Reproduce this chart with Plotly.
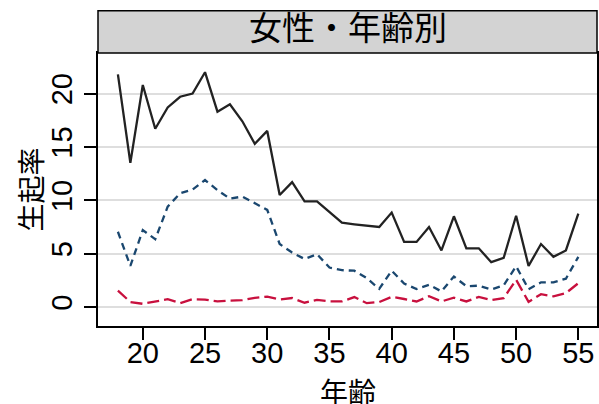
import plotly.graph_objects as go

# 年齢別の生起率(女性)
ages = list(range(18, 56))

rate_total = [21.8, 13.5, 20.8, 16.7, 18.7, 19.7, 20.0, 22.0, 18.3, 19.0,
              17.4, 15.3, 16.5, 10.5, 11.7, 9.9, 9.9, 8.9, 7.9, 7.75,
              7.6, 7.5, 8.85, 6.1, 6.1, 7.5, 5.3, 8.5, 5.5, 5.5,
              4.2, 4.6, 8.55, 3.85, 5.9, 4.7, 5.3, 8.75]

rate_mid = [7.05, 3.85, 7.2, 6.35, 9.4, 10.65, 11.0, 11.9, 10.95, 10.15,
            10.35, 9.7, 9.1, 5.9, 5.1, 4.5, 4.95, 3.7, 3.45, 3.4,
            2.7, 1.7, 3.4, 2.2, 1.68, 2.08, 1.46, 2.86, 1.95, 2.0,
            1.64, 2.03, 3.82, 1.67, 2.31, 2.31, 2.65, 4.7]

rate_low = [1.53, 0.47, 0.3, 0.5, 0.73, 0.36, 0.73, 0.7, 0.52, 0.6,
            0.64, 0.86, 0.98, 0.7, 0.84, 0.4, 0.67, 0.53, 0.52, 0.93,
            0.36, 0.47, 0.95, 0.75, 0.52, 1.01, 0.52, 0.87, 0.52, 0.95,
            0.64, 0.83, 2.55, 0.48, 1.2, 1.0, 1.3, 2.23]

x_ticks = [20, 25, 30, 35, 40, 45, 50, 55]
y_ticks = [0, 5, 10, 15, 20]

strip_label = "女性・年齢別"
x_title = "年齢"
y_title = "生起率"

FONT = "Liberation Sans, Arial, Noto Sans CJK JP, sans-serif"
CJK = "Noto Sans CJK JP, Liberation Sans, sans-serif"

fig = go.Figure()
fig.add_trace(go.Scatter(x=ages, y=rate_total, mode="lines",
                         line=dict(color="#222222", width=2.3)))
fig.add_trace(go.Scatter(x=ages, y=rate_mid, mode="lines",
                         line=dict(color="#1a476f", width=2.3, dash="7px,5px")))
fig.add_trace(go.Scatter(x=ages, y=rate_low, mode="lines",
                         line=dict(color="#c8103e", width=2.3, dash="12px,5px")))

W, H = 599, 404
m_l, m_r, m_t, m_b = 98, 2, 53, 78
plot_w = W - m_l - m_r
plot_h = H - m_t - m_b

def paper_y(py):
    return (H - m_b - py) / plot_h

def paper_x(px):
    return (px - m_l) / plot_w

fig.update_layout(
    width=W, height=H,
    margin=dict(l=m_l, r=m_r, t=m_t, b=m_b),
    paper_bgcolor="white", plot_bgcolor="white",
    showlegend=False,
    font=dict(family=FONT, color="black", size=29),
    xaxis=dict(
        automargin=False,
        range=[16.4, 56.5], tickvals=x_ticks, ticktext=[str(v) for v in x_ticks],
        showgrid=False, zeroline=False,
        showline=True, linecolor="black", linewidth=2, mirror=True,
        ticks="",
        minor=dict(tickvals=x_ticks, ticks="outside", ticklen=12,
                   tickwidth=1.5, tickcolor="black", showgrid=False),
        tickfont=dict(size=29, family=FONT),
    ),
    yaxis=dict(
        automargin=False,
        range=[-1.78, 23.8], tickvals=y_ticks, ticktext=[str(v) for v in y_ticks],
        tickangle=-90,
        showgrid=True, gridcolor="#dedede", gridwidth=2, zeroline=False,
        showline=True, linecolor="black", linewidth=2, mirror=True,
        ticks="outside", ticklen=12, tickwidth=1.5, tickcolor="black",
        tickfont=dict(size=29, family=FONT),
    ),
    shapes=[dict(type="rect", xref="paper", yref="paper",
                 x0=0, x1=1, y0=1.0, y1=paper_y(10.7),
                 fillcolor="#d3d3d3", line=dict(color="black", width=1.5),
                 layer="above")],
    annotations=[
        dict(text=strip_label, xref="paper", yref="paper",
             x=0.5, y=paper_y(26.5), xanchor="center", yanchor="middle",
             showarrow=False, font=dict(size=33, family=CJK, color="black")),
        # axis titles
        dict(text=x_title, xref="paper", yref="paper",
             x=0.5, y=paper_y(391), xanchor="center", yanchor="middle",
             showarrow=False, font=dict(size=28, family=CJK, color="black")),
        dict(text=y_title, xref="paper", yref="paper", textangle=-90,
             x=paper_x(29), y=0.5, xanchor="center", yanchor="middle",
             showarrow=False, font=dict(size=28, family=CJK, color="black")),
    ],
)

fig.write_html("out.html")
